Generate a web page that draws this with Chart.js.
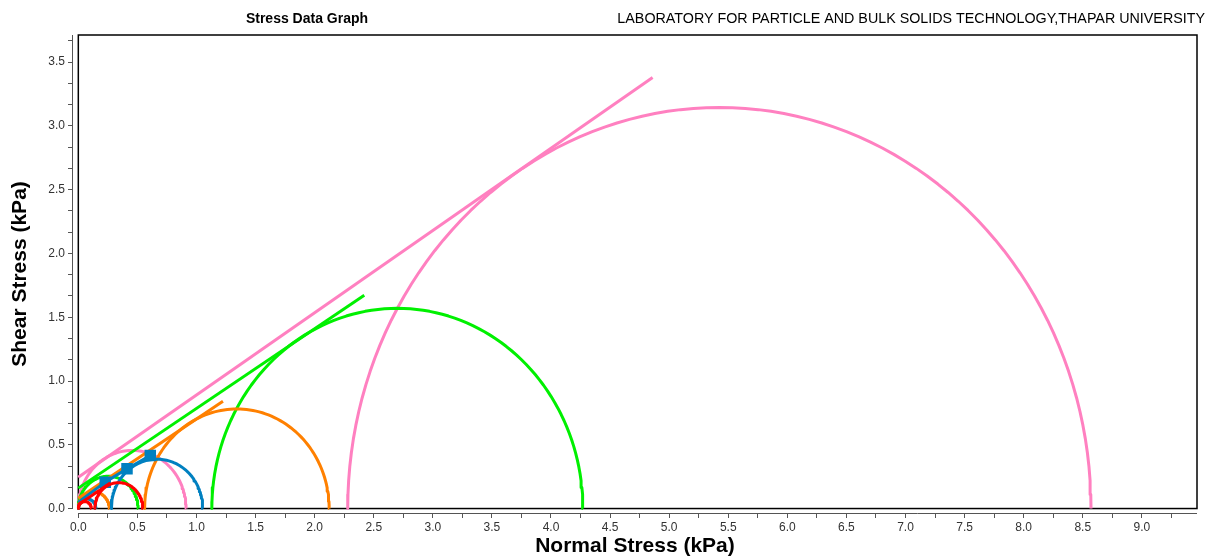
<!DOCTYPE html>
<html>
<head>
<meta charset="utf-8">
<title>Stress Data Graph</title>
<script src="https://cdn.jsdelivr.net/npm/chart.js@4.4.1/dist/chart.umd.min.js"></script>
<style>
  html, body { margin: 0; padding: 0; background: #fff; }
  #wrap { width: 1213px; height: 559px; }
</style>
</head>
<body>
<div id="wrap"><canvas id="stressChart" width="1213" height="559"></canvas></div>
<script>
// one entry per shear test, smallest first
const testNames = ['Test 1', 'Test 2', 'Test 3', 'Test 4', 'Test 5'];
const testColors = ['#ff0000', '#0080c0', '#ff8000', '#00f000', '#ff80c0'];

// major consolidation stress circles (kPa)
const consolCentre = [0.343, 0.666, 1.342, 2.70, 5.425];
const consolRadius = [0.203, 0.387, 0.781, 1.57, 3.145];

// unconfined yield strength circles (through the origin)
const yieldCentre = [0.055, 0.075, 0.131, 0.253, 0.456];
const yieldRadius = [0.055, 0.075, 0.131, 0.253, 0.456];

// yield loci
const locusX = [
  [0, 0.27],
  [0, 0.228, 0.412, 0.609],
  [0, 1.224],
  [0, 2.42],
  [0, 4.86]
];
const locusY = [
  [0.03, 0.20],
  [0.05, 0.207, 0.312, 0.416],
  [0.08, 0.842],
  [0.16, 1.672],
  [0.245, 3.38]
];
// shear points shown with markers (test 2 only)
const locusMarked = [false, true, false, false, false];

// axis ticks
const xMajorStep = 0.5, xMinorStep = 0.25, xLastTick = 9.25;
const yMajorStep = 0.5, yMinorStep = 0.5 / 3, yLastTick = 3.67;

function semicircle(c, r) {
  const pts = [];
  for (let i = 0; i <= 90; i++) {
    const a = Math.PI * i / 90;
    pts.push({ x: c + r * Math.cos(a), y: r * Math.sin(a) });
  }
  return pts;
}

function isMajor(v, step) {
  return Math.abs(v / step - Math.round(v / step)) < 1e-6;
}

const datasets = [];
testNames.forEach((name, i) => {
  const col = testColors[i];
  datasets.push({
    label: name + ' yield locus',
    data: locusX[i].map((x, k) => ({ x: x, y: locusY[i][k] })),
    borderColor: col,
    backgroundColor: col,
    pointStyle: 'rect',
    pointRadius: locusX[i].map((x, k) => (locusMarked[i] && k > 0 ? 6 : 0))
  });
  datasets.push({
    label: name + ' unconfined',
    data: semicircle(yieldCentre[i], yieldRadius[i]),
    borderColor: col,
    pointRadius: 0
  });
  datasets.push({
    label: name + ' consolidation',
    data: semicircle(consolCentre[i], consolRadius[i]),
    borderColor: col,
    pointRadius: 0
  });
});

// frame, axis lines and header texts
const framePlugin = {
  id: 'frame',
  beforeDatasetsDraw(chart) {
    const { ctx, chartArea, scales } = chart;
    const x0 = scales.x.getPixelForValue(0);
    const y0 = scales.y.getPixelForValue(0);
    ctx.save();
    ctx.strokeStyle = '#000';
    ctx.lineWidth = 1.5;
    ctx.strokeRect(x0, chartArea.top, chartArea.right - x0, y0 - chartArea.top);
    ctx.strokeStyle = '#555';
    ctx.lineWidth = 1;
    ctx.beginPath();
    ctx.moveTo(x0, chartArea.bottom + 0.5);
    ctx.lineTo(chartArea.right, chartArea.bottom + 0.5);
    ctx.moveTo(chartArea.left - 0.5, chartArea.top);
    ctx.lineTo(chartArea.left - 0.5, y0);
    ctx.stroke();
    ctx.restore();
  },
  afterDraw(chart) {
    const ctx = chart.ctx;
    ctx.save();
    ctx.fillStyle = '#000';
    ctx.textBaseline = 'middle';
    ctx.font = 'bold 14px "Liberation Sans", Arial, sans-serif';
    ctx.textAlign = 'center';
    ctx.fillText('Stress Data Graph', 307, 19);
    ctx.font = '14.3px "Liberation Sans", Arial, sans-serif';
    ctx.textAlign = 'right';
    ctx.fillText('LABORATORY FOR PARTICLE AND BULK SOLIDS TECHNOLOGY,THAPAR UNIVERSITY', 1205, 19);
    ctx.restore();
  }
};

const tickFont = { family: '"Liberation Sans", Arial, sans-serif', size: 12 };
const titleFont = { family: '"Liberation Sans", Arial, sans-serif', size: 21, weight: 'bold' };

new Chart(document.getElementById('stressChart'), {
  type: 'scatter',
  data: { datasets: datasets },
  plugins: [framePlugin],
  options: {
    responsive: false,
    animation: false,
    showLine: true,
    datasets: {
      scatter: { borderWidth: 3, tension: 0, fill: false, borderJoinStyle: 'round' }
    },
    layout: { padding: { top: 35, right: 16, left: 0, bottom: 0 } },
    plugins: { legend: { display: false }, tooltip: { enabled: false } },
    scales: {
      x: {
        type: 'linear',
        min: -0.045,
        max: 9.467,
        afterFit(scale) { scale.height = 46; },
        afterBuildTicks(scale) {
          const t = [];
          for (let v = 0; v <= xLastTick + 1e-9; v += xMinorStep) t.push({ value: v });
          scale.ticks = t;
        },
        border: { display: false },
        grid: { drawOnChartArea: false, drawTicks: true, tickLength: 5, color: '#555' },
        ticks: {
          autoSkip: false,
          maxRotation: 0,
          padding: 2,
          color: '#333',
          font: tickFont,
          callback: v => (isMajor(v, xMajorStep) ? v.toFixed(1) : '')
        },
        title: {
          display: true,
          text: 'Normal Stress (kPa)',
          color: '#000',
          font: titleFont,
          padding: { top: 0, bottom: 0 }
        }
      },
      y: {
        type: 'linear',
        min: -0.035,
        max: 3.713,
        afterFit(scale) { scale.width = 73; },
        afterBuildTicks(scale) {
          const t = [];
          for (let i = 0; i * yMinorStep <= yLastTick; i++) t.push({ value: i * yMinorStep });
          scale.ticks = t;
        },
        border: { display: false },
        grid: { drawOnChartArea: false, drawTicks: true, tickLength: 5, color: '#555' },
        ticks: {
          autoSkip: false,
          padding: 3,
          color: '#333',
          font: tickFont,
          callback: v => (isMajor(v, yMajorStep) ? v.toFixed(1) : '')
        },
        title: {
          display: true,
          text: 'Shear Stress (kPa)',
          color: '#000',
          font: titleFont,
          padding: { top: 8, bottom: 0 }
        }
      }
    }
  }
});
</script>
</body>
</html>
